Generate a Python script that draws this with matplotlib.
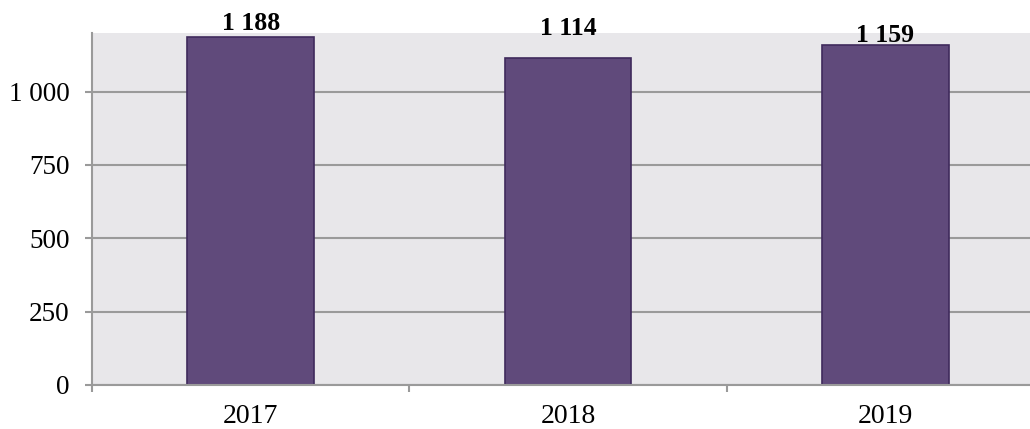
import matplotlib.pyplot as plt
import numpy as np

# data
years = ['2017', '2018', '2019']
values = [1188, 1114, 1159]
value_labels = ['1 188', '1 114', '1 159']
ytick_vals = [0, 250, 500, 750, 1000]
ytick_labels = ['0', '250', '500', '750', '1 000']

plt.rcParams['font.family'] = ['Liberation Serif', 'DejaVu Serif']

fig = plt.figure(figsize=(10.30, 4.29), dpi=100)
# plot area runs slightly past the right edge, as in the reference
ax = fig.add_axes([92/1030, 44/429, 952/1030, 352/429])
ax.set_facecolor('#e8e7ea')

x = np.arange(len(years))
bars = ax.bar(x, values, width=0.4, color='#604a7b', edgecolor='#3f2a5c',
              linewidth=1.2, zorder=3)

# value labels above bars (gap in points differs per bar in the reference)
label_gap = [5, 16.5, 2]
for b, lab, g in zip(bars, value_labels, label_gap):
    ax.annotate(lab, (b.get_x() + b.get_width()/2, b.get_height()),
                xytext=(0, g), textcoords='offset points',
                ha='center', va='baseline', fontsize=18.5, fontweight='bold')

ax.set_xlim(-0.5, len(years) - 0.5)
ax.set_ylim(0, 1200)
ax.set_yticks(ytick_vals)
ax.set_yticklabels(ytick_labels, fontsize=19.5)
ax.yaxis.grid(True, color='#9a9a9a', linewidth=1.5, zorder=1)

# categories labelled at centre, tick marks at boundaries
ax.set_xticks(x)
ax.set_xticklabels(years, fontsize=20)
ax.tick_params(axis='x', which='major', length=0, pad=13.5)
ax.set_xticks(np.arange(len(years) + 1) - 0.5, minor=True)
ax.tick_params(axis='x', which='minor', length=5, width=1.5, color='#9a9a9a')
ax.tick_params(axis='y', length=5, width=1.5, color='#9a9a9a', pad=11)

for s in ['top', 'right']:
    ax.spines[s].set_visible(False)
for s in ['left', 'bottom']:
    ax.spines[s].set_color('#9a9a9a')
    ax.spines[s].set_linewidth(1.5)
    ax.spines[s].set_zorder(4)

fig.savefig('out.png', dpi=100)
